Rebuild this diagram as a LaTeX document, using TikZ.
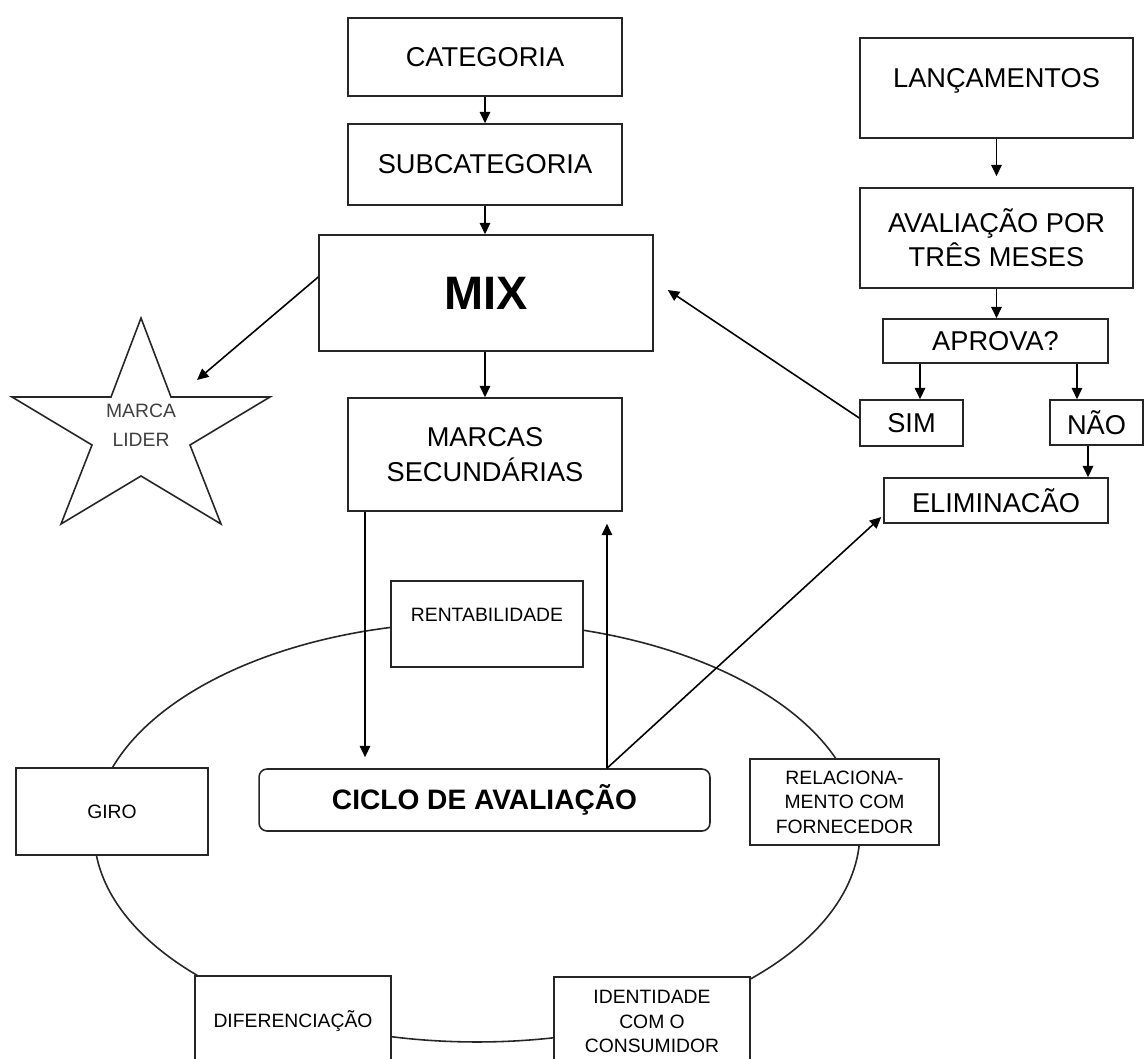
\documentclass[tikz,border=0pt]{standalone}
\usepackage{fontspec}
\setmainfont{Liberation Sans}
\usetikzlibrary{arrows.meta,shapes.geometric}
\newcommand\myBig{\fontsize{15.5}{19.5}\selectfont}
\newcommand\mySmall{\fontsize{11}{14}\selectfont}
\newcommand\myStar{\fontsize{11}{16.4}\selectfont}
\newcommand\myMix{\fontsize{26.7}{30}\selectfont\bfseries}
\newcommand\myCiclo{\fontsize{16}{19}\selectfont\bfseries}
\begin{document}
\begin{tikzpicture}[x=0.02cm,y=-0.02cm,
  line width=0.9pt,
  box/.style={draw=black!85, fill=white, inner sep=0pt, align=center, font=\myBig},
  smallbox/.style={box, font=\mySmall},
  txt/.style={inner sep=0pt, align=center, font=\myBig},
  smalltxt/.style={inner sep=0pt, align=center, font=\mySmall},
  arr/.style={-{Triangle[length=6.5pt,width=6pt]}, draw=black, line width=0.9pt},
  ]
\fill[white] (0,0) rectangle (1145,1058);
\path[use as bounding box] (0,0) rectangle (1145,1058);
\clip (0,0) rectangle (1145,1058);

% evaluation cycle ring
\node[ellipse, draw=black!85, minimum width=15.32cm, minimum height=8.4cm, inner sep=0pt] (ring) at (477,832) {};

% left column
\node[box, minimum width=5.48cm, minimum height=1.56cm] (cat) at (485,57) {CATEGORIA};
\node[box, minimum width=5.48cm, minimum height=1.62cm] (sub) at (485,164.5) {SUBCATEGORIA};
\node[box, minimum width=6.68cm, minimum height=2.32cm, font=\myMix] (mix) at (486,293) {MIX};
\node[box, minimum width=5.48cm, minimum height=2.26cm] (marcas) at (485,454.5) {MARCAS\\SECUND\'ARIAS};

% right column
\node[box, minimum width=5.46cm, minimum height=2cm] (lanc) at (996.5,88) {};
\node[txt] (lanct) at (996.5,81) {LANÇAMENTOS};
\node[box, minimum width=5.46cm, minimum height=2cm] (aval) at (996.5,238) {AVALIAÇÃO POR\\TRÊS MESES};
\node[box, minimum width=4.5cm, minimum height=0.88cm] (aprova) at (995.5,341) {APROVA?};
\node[box, minimum width=2.06cm, minimum height=0.92cm] (sim) at (911.5,423) {SIM};
\node[box, minimum width=1.86cm, minimum height=0.9cm] (nao) at (1096.5,422.5) {NÃO};
\node[box, minimum width=4.48cm, minimum height=0.9cm] (elim) at (996,500.5) {ELIMINACÃO};

% cycle
\node[box, rounded corners=0.16cm, minimum width=9.02cm, minimum height=1.24cm, font=\myCiclo] (ciclo) at (484.5,800) {CICLO DE AVALIAÇÃO};
\node[smallbox, minimum width=3.84cm, minimum height=1.72cm] (rent) at (487,624) {};
\node[smalltxt] (rentt) at (487,615) {RENTABILIDADE};
\node[smallbox, minimum width=3.84cm, minimum height=1.74cm] (giro) at (112,811.5) {GIRO};
\node[smallbox, minimum width=3.78cm, minimum height=1.72cm] (rel) at (844.5,802) {RELACIONA-\\MENTO COM\\FORNECEDOR};
\node[smallbox, minimum width=3.92cm, minimum height=1.8cm] (dif) at (293,1021) {DIFERENCIAÇÃO};
\node[smallbox, minimum width=3.92cm, minimum height=1.78cm] (iden) at (652,1021.5) {IDENTIDADE\\COM O\\CONSUMIDOR};

% star
\draw[draw=black!85, fill=white] (141,318) -- (171,397) -- (270,397) -- (190,445) -- (221,524) -- (141,476) -- (61,524) -- (92,445) -- (12,397) -- (111,397) -- cycle;
\node[smalltxt, font=\myStar, text=black!75] (lider) at (141,425) {MARCA\\LIDER};
\coordinate (startip) at (197,380);

% arrows
\draw[arr] (cat.south) -- (sub.north);
\draw[arr] (sub.south) -- (sub.south |- mix.north);
\draw[arr] (mix.south -| sub.south) -- (marcas.north);
\draw[arr] ([yshift=0.32cm]mix.west) -- (startip);
\draw[arr] ([yshift=0.1cm]sim.west) -- ([xshift=0.28cm,yshift=0.06cm]mix.east);
\draw[arr, shorten >=0.22cm] (lanc.south) -- (aval.north);
\draw[arr] (aval.south) -- (aval.south |- aprova.north);
\draw[arr] ([xshift=-1.51cm]aprova.south) -- ([xshift=-1.51cm]aprova.south |- sim.north);
\draw[arr] ([xshift=1.63cm]aprova.south) -- ([xshift=1.63cm]aprova.south |- nao.north);
\draw[arr] ([xshift=-0.17cm]nao.south) -- ([xshift=-0.17cm]nao.south |- elim.north);
\draw[arr, shorten >=0.22cm] ([xshift=-2.4cm]marcas.south) -- ([xshift=-2.4cm]marcas.south |- ciclo.north);
\draw[arr, shorten >=0.24cm] ([xshift=2.45cm]ciclo.north) -- ([xshift=2.45cm]ciclo.north |- marcas.south);
\draw[arr] ([xshift=2.45cm]ciclo.north) -- ([xshift=-0.04cm,yshift=-0.33cm]elim.west);
\end{tikzpicture}
\end{document}
